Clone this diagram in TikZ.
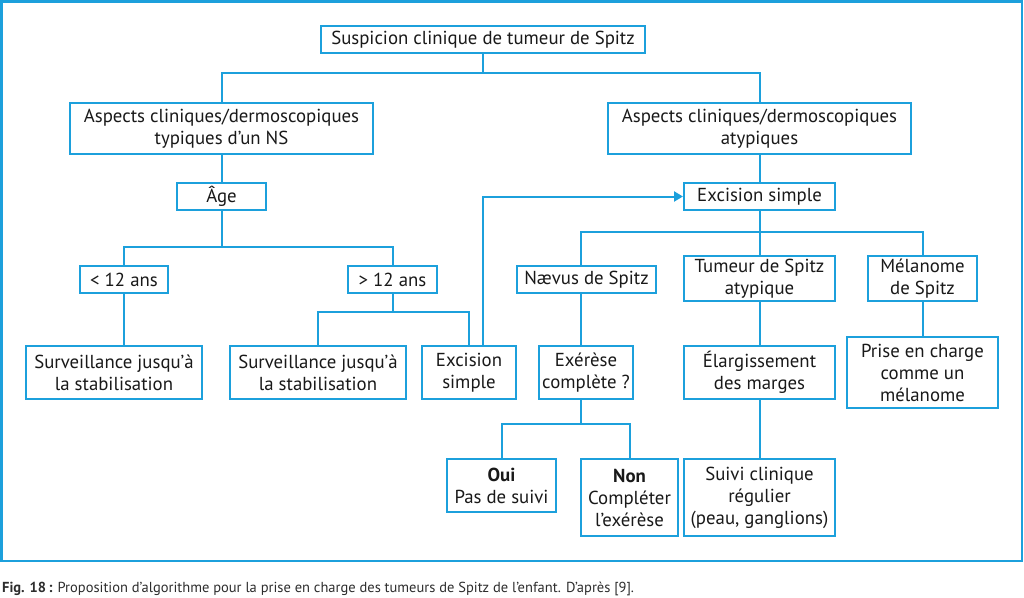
\documentclass[tikz,border=0pt]{standalone}
\usepackage{fontspec}
\setmainfont{PT Sans}
\usetikzlibrary{arrows.meta,calc}
\definecolor{fblue}{RGB}{28,160,220}
\definecolor{captxt}{RGB}{45,45,45}
\tikzset{
  box/.style={draw=fblue, line width=2pt, fill=white, align=center, inner sep=0pt,
    font=\fontsize{18.8}{22}\selectfont, text=black!90},
  conn/.style={draw=fblue, line width=2pt},
}
\begin{document}
\begin{tikzpicture}[x=1pt,y=-1pt]
\useasboundingbox (0,0) rectangle (1024,597);
\draw[fblue, line width=2.5pt] (1.5,1.5) rectangle (1022,561);
% nodes
\node[box, minimum width=324, minimum height=27] (top) at (483,39.5) {Suspicion clinique de tumeur de Spitz};
\node[box, minimum width=303, minimum height=51] (A) at (221.5,128.5) {Aspects cliniques/dermoscopiques\\typiques d’un NS};
\node[box, minimum width=303, minimum height=51] (B) at (759.5,128.5) {Aspects cliniques/dermoscopiques\\atypiques};
\node[box, minimum width=89, minimum height=27] (age) at (221.5,196.5) {Âge};
\node[box, minimum width=151, minimum height=27] (exc) at (759.5,196.5) {Excision simple};
\node[box, minimum width=88, minimum height=27] (lt) at (124,279.5) {< 12 ans};
\node[box, minimum width=89, minimum height=27] (gt) at (392.5,279.5) {> 12 ans};
\node[box, minimum width=139, minimum height=27] (nae) at (586.5,279.5) {Nævus de Spitz};
\node[box, minimum width=151, minimum height=45] (tsa) at (759.5,278.5) {Tumeur de Spitz\\atypique};
\node[box, minimum width=109, minimum height=45] (mel) at (922.5,278.5) {Mélanome\\de Spitz};
\node[box, minimum width=176, minimum height=53] (s1) at (114,372.5) {Surveillance jusqu’à\\la stabilisation};
\node[box, minimum width=176, minimum height=53] (s2) at (318,372.5) {Surveillance jusqu’à\\la stabilisation};
\node[box, minimum width=94, minimum height=53] (exl) at (469,372.5) {Excision\\simple};
\node[box, minimum width=94, minimum height=53] (exer) at (586,372.5) {Exérèse\\complète ?};
\node[box, minimum width=151, minimum height=53] (elar) at (759.5,372.5) {Élargissement\\des marges};
\node[box, minimum width=151, minimum height=71] (prise) at (922.5,372.5) {Prise en charge\\comme un\\mélanome};
\node[box, minimum width=109, minimum height=53] (oui) at (501.5,485.5) {\textbf{Oui}\\Pas de suivi};
\node[box, minimum width=97, minimum height=77] (non) at (629.5,497.5) {\textbf{Non}\\Compléter\\l’exérèse};
\node[box, minimum width=151, minimum height=77] (suivi) at (759.5,497.5) {Suivi clinique\\régulier\\(peau, ganglions)};
% junctions
\coordinate (j1) at (483,73);
\coordinate (j2) at (221.5,247);
\coordinate (j3) at (392.5,312);
\coordinate (j4) at (759.5,232);
\coordinate (j5) at (581,424);
\coordinate (na) at ([xshift=-5.5pt]nae.north);
\coordinate (nb) at ([xshift=-5.5pt]nae.south);
\coordinate (xa) at ([xshift=-5pt]exer.north);
\coordinate (xb) at ([xshift=-5pt]exer.south);
\coordinate (la) at ([xshift=14pt]exl.north);
% connectors
\draw[conn] (top.south) -- (j1);
\draw[conn] (A.north) |- (j1) -| (B.north);
\draw[conn] (A.south) -- (age.north);
\draw[conn] (age.south) -- (j2);
\draw[conn] (lt.north) |- (j2) -| (gt.north);
\draw[conn] (lt.south) -- (lt.south |- s1.north);
\draw[conn] (gt.south) -- (j3);
\draw[conn] (s2.north) |- (j3) -| (exl.north);
\draw[conn, -{Triangle[length=9pt,width=10pt]}] (la) |- (exc.west);
\draw[conn] (B.south) -- (exc.north);
\draw[conn] (exc.south) -- (j4);
\draw[conn] (na) |- (j4) -| (mel.north);
\draw[conn] (j4) -- (tsa.north);
\draw[conn] (nb) -- (xa);
\draw[conn] (xb) -- (j5);
\draw[conn] (oui.north) |- (j5) -| (non.north);
\draw[conn] (tsa.south) -- (elar.north);
\draw[conn] (elar.south) -- (suivi.north);
\draw[conn] (mel.south) -- (prise.north);
% caption
\node[anchor=west, inner sep=0pt, text=captxt, font=\fontsize{14.5}{16}\selectfont] (cap) at (2,589) {\textbf{Fig. 18\,:} Proposition d’algorithme pour la prise en charge des tumeurs de Spitz de l’enfant. D’après [9].};
\end{tikzpicture}
\end{document}
